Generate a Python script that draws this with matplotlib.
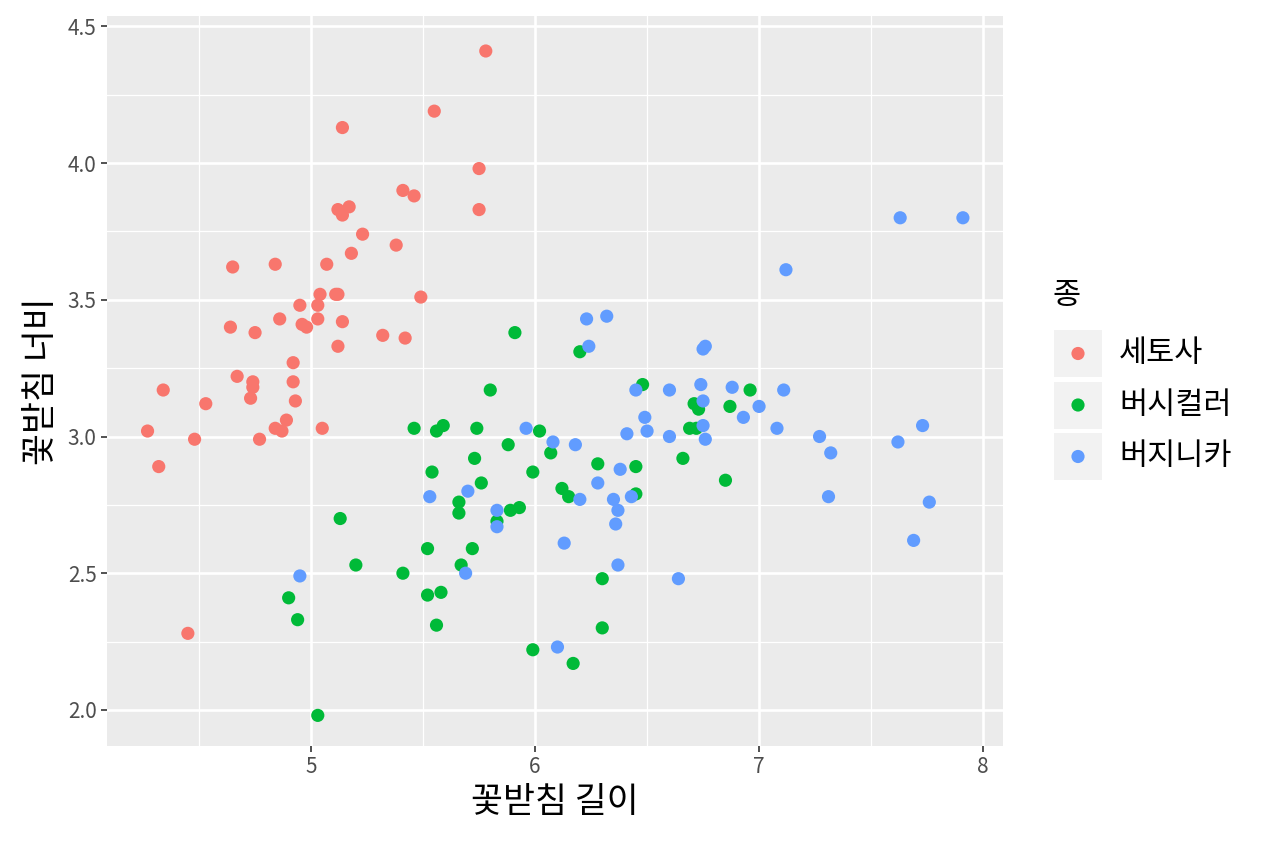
import matplotlib
matplotlib.use("Agg")
import matplotlib.pyplot as plt
from matplotlib.patches import Rectangle

plt.rcParams['font.family'] = ['Noto Sans CJK KR', 'DejaVu Sans']

# 꽃받침 길이 / 너비 (jittered iris)
setosa_x = [5.78, 5.55, 5.14, 5.75, 5.41, 5.46, 5.75, 5.12, 5.17, 5.14,
            5.23, 5.38, 5.18, 5.07, 4.84, 4.65, 5.04, 5.49, 4.95, 5.11,
            5.12, 5.03, 4.64, 4.86, 4.96, 4.98, 5.03, 5.14, 4.75, 5.12,
            5.32, 5.42, 4.92, 4.67, 4.74, 4.74, 4.34, 4.92, 4.73, 4.53,
            4.93, 4.89, 4.27, 4.84, 4.87, 4.77, 5.05, 4.48, 4.32, 4.45]
setosa_y = [4.41, 4.19, 4.13, 3.98, 3.90, 3.88, 3.83, 3.83, 3.84, 3.81,
            3.74, 3.70, 3.67, 3.63, 3.63, 3.62, 3.52, 3.51, 3.48, 3.52,
            3.52, 3.48, 3.40, 3.43, 3.41, 3.40, 3.43, 3.42, 3.38, 3.33,
            3.37, 3.36, 3.27, 3.22, 3.20, 3.18, 3.17, 3.20, 3.14, 3.12,
            3.13, 3.06, 3.02, 3.03, 3.02, 2.99, 3.03, 2.99, 2.89, 2.28]

versicolor_x = [5.91, 6.20, 6.48, 5.80, 5.46, 5.56, 5.59, 5.74, 6.02, 5.88,
                6.07, 5.73, 6.28, 6.45, 6.66, 5.54, 5.99, 5.76, 6.12, 6.15,
                6.45, 5.66, 5.66, 5.89, 5.93, 5.83, 5.52, 5.72, 5.67, 5.41,
                5.52, 5.58, 5.56, 6.30, 6.30, 5.99, 6.17, 5.13, 5.20, 4.90,
                4.94, 5.03, 6.96, 6.87, 6.71, 6.73, 6.69, 6.72, 6.85]
versicolor_y = [3.38, 3.31, 3.19, 3.17, 3.03, 3.02, 3.04, 3.03, 3.02, 2.97,
                2.94, 2.92, 2.90, 2.89, 2.92, 2.87, 2.87, 2.83, 2.81, 2.78,
                2.79, 2.76, 2.72, 2.73, 2.74, 2.69, 2.59, 2.59, 2.53, 2.50,
                2.42, 2.43, 2.31, 2.48, 2.30, 2.22, 2.17, 2.70, 2.53, 2.41,
                2.33, 1.98, 3.17, 3.11, 3.12, 3.10, 3.03, 3.03, 2.84]

virginica_x = [7.63, 7.91, 7.12, 6.76, 6.75, 6.74, 6.88, 7.11, 6.75, 7.00,
               6.93, 6.75, 6.76, 7.08, 7.27, 7.32, 7.31, 7.73, 7.62, 7.76,
               7.69, 6.23, 6.32, 6.24, 6.45, 6.60, 6.49, 6.41, 6.50, 6.60,
               5.96, 6.08, 6.18, 6.38, 6.28, 6.20, 6.35, 6.37, 6.43, 5.53,
               5.70, 5.83, 6.36, 5.83, 5.69, 6.13, 6.37, 6.64, 6.10, 4.95]
virginica_y = [3.80, 3.80, 3.61, 3.33, 3.32, 3.19, 3.18, 3.17, 3.13, 3.11,
               3.07, 3.04, 2.99, 3.03, 3.00, 2.94, 2.78, 3.04, 2.98, 2.76,
               2.62, 3.43, 3.44, 3.33, 3.17, 3.17, 3.07, 3.01, 3.02, 3.00,
               3.03, 2.98, 2.97, 2.88, 2.83, 2.77, 2.77, 2.73, 2.78, 2.78,
               2.80, 2.73, 2.68, 2.67, 2.50, 2.61, 2.53, 2.48, 2.23, 2.49]

species = ['세토사', '버시컬러', '버지니카']
colors = ['#F8766D', '#00BA38', '#619CFF']

fig = plt.figure(figsize=(12.64, 8.43), dpi=100)
ax = fig.add_axes([107/1264, 1-746/843, 896/1264, 730/843])
ax.set_facecolor('#EBEBEB')
for s in ax.spines.values():
    s.set_visible(False)

series = [(setosa_x, setosa_y), (versicolor_x, versicolor_y), (virginica_x, virginica_y)]
for (xs, ys), c in zip(series, colors):
    ax.scatter(xs, ys, s=90, color=c, edgecolors='none', zorder=3)

ax.set_xlim(4.089, 8.089)
ax.set_ylim(1.868, 4.538)
ax.set_xticks([5, 6, 7, 8])
ax.set_xticks([4.5, 5.5, 6.5, 7.5], minor=True)
ax.set_yticks([2.0, 2.5, 3.0, 3.5, 4.0, 4.5])
ax.set_yticklabels(['2.0', '2.5', '3.0', '3.5', '4.0', '4.5'])
ax.set_yticks([2.25, 2.75, 3.25, 3.75, 4.25], minor=True)
ax.grid(which='major', color='white', linewidth=1.9)
ax.grid(which='minor', color='white', linewidth=0.9)
ax.set_axisbelow(True)
ax.tick_params(which='major', length=4.5, width=1.2, color='#333333',
               labelcolor='#4D4D4D', labelsize=15, pad=3)
ax.tick_params(which='minor', length=0)

ax.set_xlabel('꽃받침 길이', fontsize=25, color='black', labelpad=5)
ax.set_ylabel('꽃받침 너비', fontsize=25, color='black', labelpad=6)

# legend drawn by hand, ggplot style (pixel coords)
lg = fig.add_axes([1040/1264, 1-490/843, 224/1264, 220/843])
lg.set_xlim(1040, 1264)
lg.set_ylim(490, 270)
lg.axis('off')
lg.text(1052, 295, '종', fontsize=22, va='center', ha='left')
for i, (name, c) in enumerate(zip(species, colors)):
    top = 330 + i * 51.5
    lg.add_patch(Rectangle((1054, top), 48, 47, color='#F2F2F2', lw=0))
    lg.scatter([1078], [top + 23.5], s=90, color=c, edgecolors='none')
    lg.text(1119, top + 23.5, name, fontsize=22, va='center', ha='left')

fig.savefig('out.png', dpi=100)
